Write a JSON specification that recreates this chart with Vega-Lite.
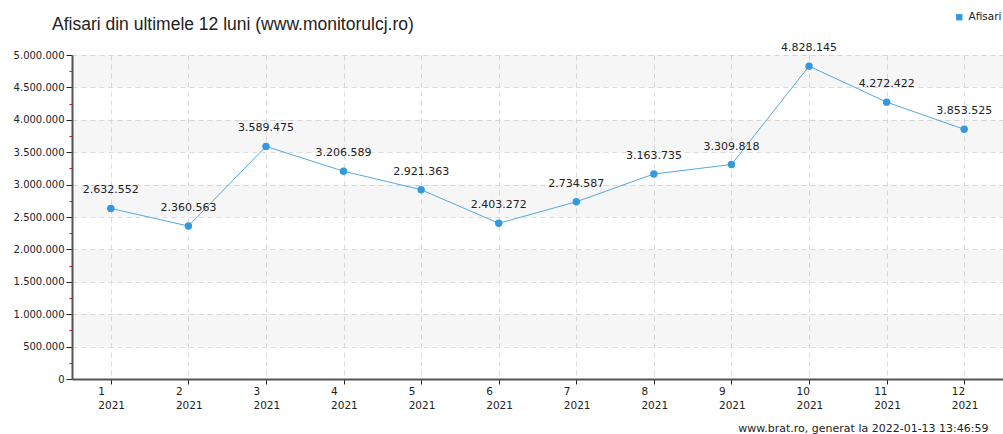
{
  "$schema": "https://vega.github.io/schema/vega-lite/v6.json",
  "width": 931,
  "height": 324,
  "autosize": "none",
  "padding": {"left": 72, "top": 55, "right": 0, "bottom": 55},
  "background": "white",
  "config": {
    "locale": {"number": {"decimal": ",", "thousands": ".", "grouping": [3], "currency": ["", ""]}},
    "view": {"stroke": null},
    "font": "DejaVu Sans",
    "axis": {"labelColor": "#222", "labelFontSize": 10, "labelFont": "DejaVu Sans"}
  },
  "title": {
    "text": "Afisari din ultimele 12 luni (www.monitorulcj.ro)",
    "anchor": "start",
    "frame": "group",
    "font": "Liberation Sans",
    "fontSize": 17.5,
    "fontWeight": "normal",
    "color": "#222",
    "dx": -20,
    "offset": 0,
    "dy": 21
  },
  "datasets": {
    "main": [
      {"m": 1, "v": 2632552, "s": "Afisari"},
      {"m": 2, "v": 2360563, "s": "Afisari"},
      {"m": 3, "v": 3589475, "s": "Afisari"},
      {"m": 4, "v": 3206589, "s": "Afisari"},
      {"m": 5, "v": 2921363, "s": "Afisari"},
      {"m": 6, "v": 2403272, "s": "Afisari"},
      {"m": 7, "v": 2734587, "s": "Afisari"},
      {"m": 8, "v": 3163735, "s": "Afisari"},
      {"m": 9, "v": 3309818, "s": "Afisari"},
      {"m": 10, "v": 4828145, "s": "Afisari"},
      {"m": 11, "v": 4272422, "s": "Afisari"},
      {"m": 12, "v": 3853525, "s": "Afisari"}
    ],
    "bands": [
      {"lo": 500000, "hi": 1000000},
      {"lo": 1500000, "hi": 2000000},
      {"lo": 2500000, "hi": 3000000},
      {"lo": 3500000, "hi": 4000000},
      {"lo": 4500000, "hi": 5000000}
    ]
  },
  "resolve": {"axis": {"y": "independent"}},
  "layer": [
    {
      "data": {"name": "bands"},
      "mark": {"type": "rect", "color": "#000", "opacity": 0.035},
      "encoding": {
        "y": {"field": "lo", "type": "quantitative", "scale": {"domain": [0, 5000000], "nice": false},
          "axis": {"orient": "left", "values": [250000, 750000, 1250000, 1750000, 2250000, 2750000, 3250000, 3750000, 4250000, 4750000],
            "labels": false, "domain": false, "grid": false, "tickColor": "#ff0000", "tickSize": 3, "tickWidth": 1, "title": null}},
        "y2": {"field": "hi"}
      }
    },
    {
      "data": {"name": "main"},
      "mark": {"type": "line", "color": "#55a8e0", "strokeWidth": 1},
      "encoding": {
        "x": {"field": "m", "type": "ordinal", "scale": {"type": "point", "padding": 0.5},
          "axis": {"title": "www.brat.ro, generat la 2022-01-13 13:46:59", "titleAnchor": "end", "titleAlign": "right",
            "titleX": 916, "titleY": 49, "titleBaseline": "middle", "titleFontSize": 11, "titleFontWeight": "normal", "titleColor": "#222", "titleFont": "DejaVu Sans",
            "labelAngle": 0, "labelExpr": "[datum.label, '2021']", "labelAlign": "left", "labelOffset": -13, "labelLineHeight": 14, "labelFontSize": 10.5, "labelPadding": 2,
            "domainColor": "#555", "domainWidth": 2, "tickColor": "#222", "tickSize": 5,
            "grid": true, "gridColor": "#dddddd", "gridDash": [5, 4]}},
        "y": {"field": "v", "type": "quantitative", "scale": {"domain": [0, 5000000], "nice": false},
          "axis": {"orient": "left", "title": null, "values": [0, 500000, 1000000, 1500000, 2000000, 2500000, 3000000, 3500000, 4000000, 4500000, 5000000],
            "format": ",d", "domainColor": "#555", "domainWidth": 2, "tickColor": "#222", "tickSize": 6, "labelPadding": 2,
            "grid": true, "gridColor": "#dddddd", "gridDash": [5, 4]}}
      }
    },
    {
      "data": {"name": "main"},
      "mark": {"type": "point", "filled": true, "shape": "circle", "size": 55, "opacity": 1},
      "encoding": {
        "x": {"field": "m", "type": "ordinal"},
        "y": {"field": "v", "type": "quantitative", "axis": null},
        "color": {"field": "s", "type": "nominal", "scale": {"range": ["#3399dd"]},
          "legend": {"title": null, "orient": "none", "legendX": 882, "legendY": -43, "symbolType": "square", "symbolSize": 40, "labelFontSize": 10.5, "labelColor": "#222", "labelFont": "DejaVu Sans"}}
      }
    },
    {
      "data": {"name": "main"},
      "mark": {"type": "text", "dy": -18, "fontSize": 11, "color": "#222", "font": "DejaVu Sans"},
      "encoding": {
        "x": {"field": "m", "type": "ordinal"},
        "y": {"field": "v", "type": "quantitative", "axis": null},
        "text": {"field": "v", "type": "quantitative", "format": ",d"}
      }
    }
  ]
}
